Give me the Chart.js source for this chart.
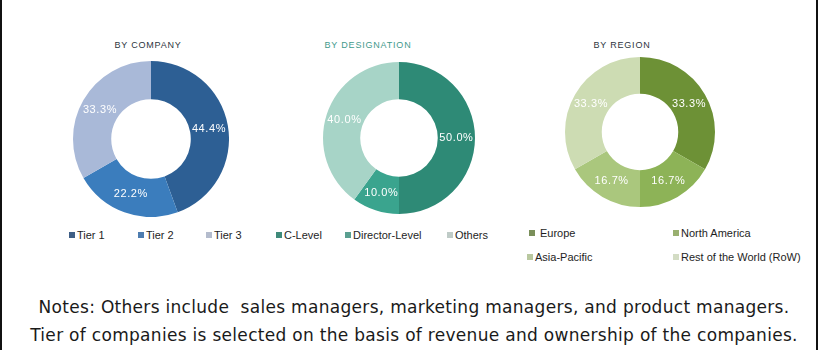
<!DOCTYPE html>
<html>
<head>
<meta charset="utf-8">
<script src="https://cdn.jsdelivr.net/npm/chart.js@4.4.0/dist/chart.umd.min.js"></script>
<style>
  html, body { margin: 0; padding: 0; background: #fff; }
  #page { position: relative; width: 820px; height: 350px; overflow: hidden; background: #fff; }
  .edge { position: absolute; top: 0; width: 2px; height: 350px; background: #111; }
  .chart-box { position: absolute; }
  .title { position: absolute; font: 9px Arial, "Liberation Sans", sans-serif; letter-spacing: 0.8px; white-space: nowrap; transform: translateX(-50%); }
  .lg { position: absolute; font: 11px Arial, "Liberation Sans", sans-serif; color: #1e1e1e; white-space: nowrap; line-height: 12px; }
  .lg i { display: inline-block; width: 6px; height: 6px; margin-right: 2px; vertical-align: 1px; }
  .note { position: absolute; left: 0; width: 828px; text-align: center; font: 17px "DejaVu Sans", sans-serif; letter-spacing: 0.3px; color: #1a1a1a; white-space: nowrap; }
</style>
</head>
<body>
<div id="page">
  <div class="edge" style="left:0"></div>
  <div class="edge" style="left:816px"></div>

  <div class="title" style="left:148px;top:40px;color:#2d3540">BY COMPANY</div>
  <div class="title" style="left:368px;top:40px;color:#3f9a8c">BY DESIGNATION</div>
  <div class="title" style="left:622px;top:40px;color:#2d3540">BY REGION</div>

  <div class="chart-box" style="left:73px;top:61px;width:156px;height:156px"><canvas id="company"></canvas></div>
  <div class="chart-box" style="left:323px;top:62px;width:152px;height:152px"><canvas id="designation"></canvas></div>
  <div class="chart-box" style="left:565px;top:57px;width:150px;height:150px"><canvas id="region"></canvas></div>

  <div id="legends"></div>

  <div class="note" style="top:297px">Notes: Others include&nbsp; sales managers, marketing managers, and product managers.</div>
  <div class="note" style="top:325px">Tier of companies is selected on the basis of revenue and ownership of the companies.</div>
</div>

<script>
const companyLabels = ['Tier 1', 'Tier 2', 'Tier 3'];
const companyValues = [44.4, 22.2, 33.3];

const designationLabels = ['C-Level', 'Director-Level', 'Others'];
const designationValues = [50.0, 10.0, 40.0];

const regionLabels = ['Europe', 'North America', 'Asia-Pacific', 'Rest of the World (RoW)'];
const regionValues = [33.3, 16.7, 16.7, 33.3];

const companyColors = ['#2d5f94', '#3b7dbd', '#a9b9d8'];
const designationColors = ['#2e8a76', '#3aa48e', '#a7d4c7'];
const regionColors = ['#6d9136', '#8db357', '#aac77d', '#cddcb3'];

// legend swatches are a touch duller than the slices
const companySwatch = ['#3f5f86', '#4e7db0', '#b4bccd'];
const designationSwatch = ['#3f8a7a', '#5a9f90', '#bfcbc7'];
const regionSwatch = ['#7a8f5a', '#99b070', '#b9c8a0', '#d3dcc4'];

// white percentage text in the middle of each slice
const sliceLabels = {
  id: 'sliceLabels',
  afterDatasetsDraw(chart) {
    const ctx = chart.ctx;
    const ds = chart.data.datasets[0];
    ctx.save();
    ctx.fillStyle = '#fff';
    ctx.font = '11px Arial, "Liberation Sans", sans-serif';
    ctx.letterSpacing = '0.6px';
    ctx.textAlign = 'center';
    ctx.textBaseline = 'middle';
    chart.getDatasetMeta(0).data.forEach((arc, i) => {
      const p = arc.tooltipPosition();
      ctx.fillText(ds.data[i].toFixed(1) + '%', p.x, p.y);
    });
    ctx.restore();
  }
};

const makeDonut = (id, labels, values, colors) => {
  new Chart(document.getElementById(id), {
    type: 'doughnut',
    data: {
      labels: labels,
      datasets: [{
        data: values,
        backgroundColor: colors,
        borderWidth: 0
      }]
    },
    options: {
      responsive: true,
      maintainAspectRatio: false,
      animation: false,
      cutout: '51%',
      layout: { padding: 0 },
      plugins: {
        legend: { display: false },
        tooltip: { enabled: false }
      }
    },
    plugins: [sliceLabels]
  });
};

makeDonut('company', companyLabels, companyValues, companyColors);
makeDonut('designation', designationLabels, designationValues, designationColors);
makeDonut('region', regionLabels, regionValues, regionColors);

// legend rows under each donut
const legendSpots = [
  { labels: companyLabels, swatch: companySwatch, pos: [[69, 229], [138, 229], [206, 229]] },
  { labels: designationLabels, swatch: designationSwatch, pos: [[276, 229], [345, 229], [447, 229]] },
  { labels: regionLabels, swatch: regionSwatch, pos: [[529, 227], [673, 227], [527, 251], [673, 251]] }
];

const legendHost = document.getElementById('legends');
legendSpots.forEach(group => {
  group.labels.forEach((name, i) => {
    const el = document.createElement('div');
    el.className = 'lg';
    el.style.left = group.pos[i][0] + 'px';
    el.style.top = group.pos[i][1] + 'px';
    el.innerHTML = `<i style="background:${group.swatch[i]}"></i>${name}`;
    if (name === 'Europe') el.querySelector('i').style.marginRight = '5px';
    legendHost.appendChild(el);
  });
});
</script>
</body>
</html>
